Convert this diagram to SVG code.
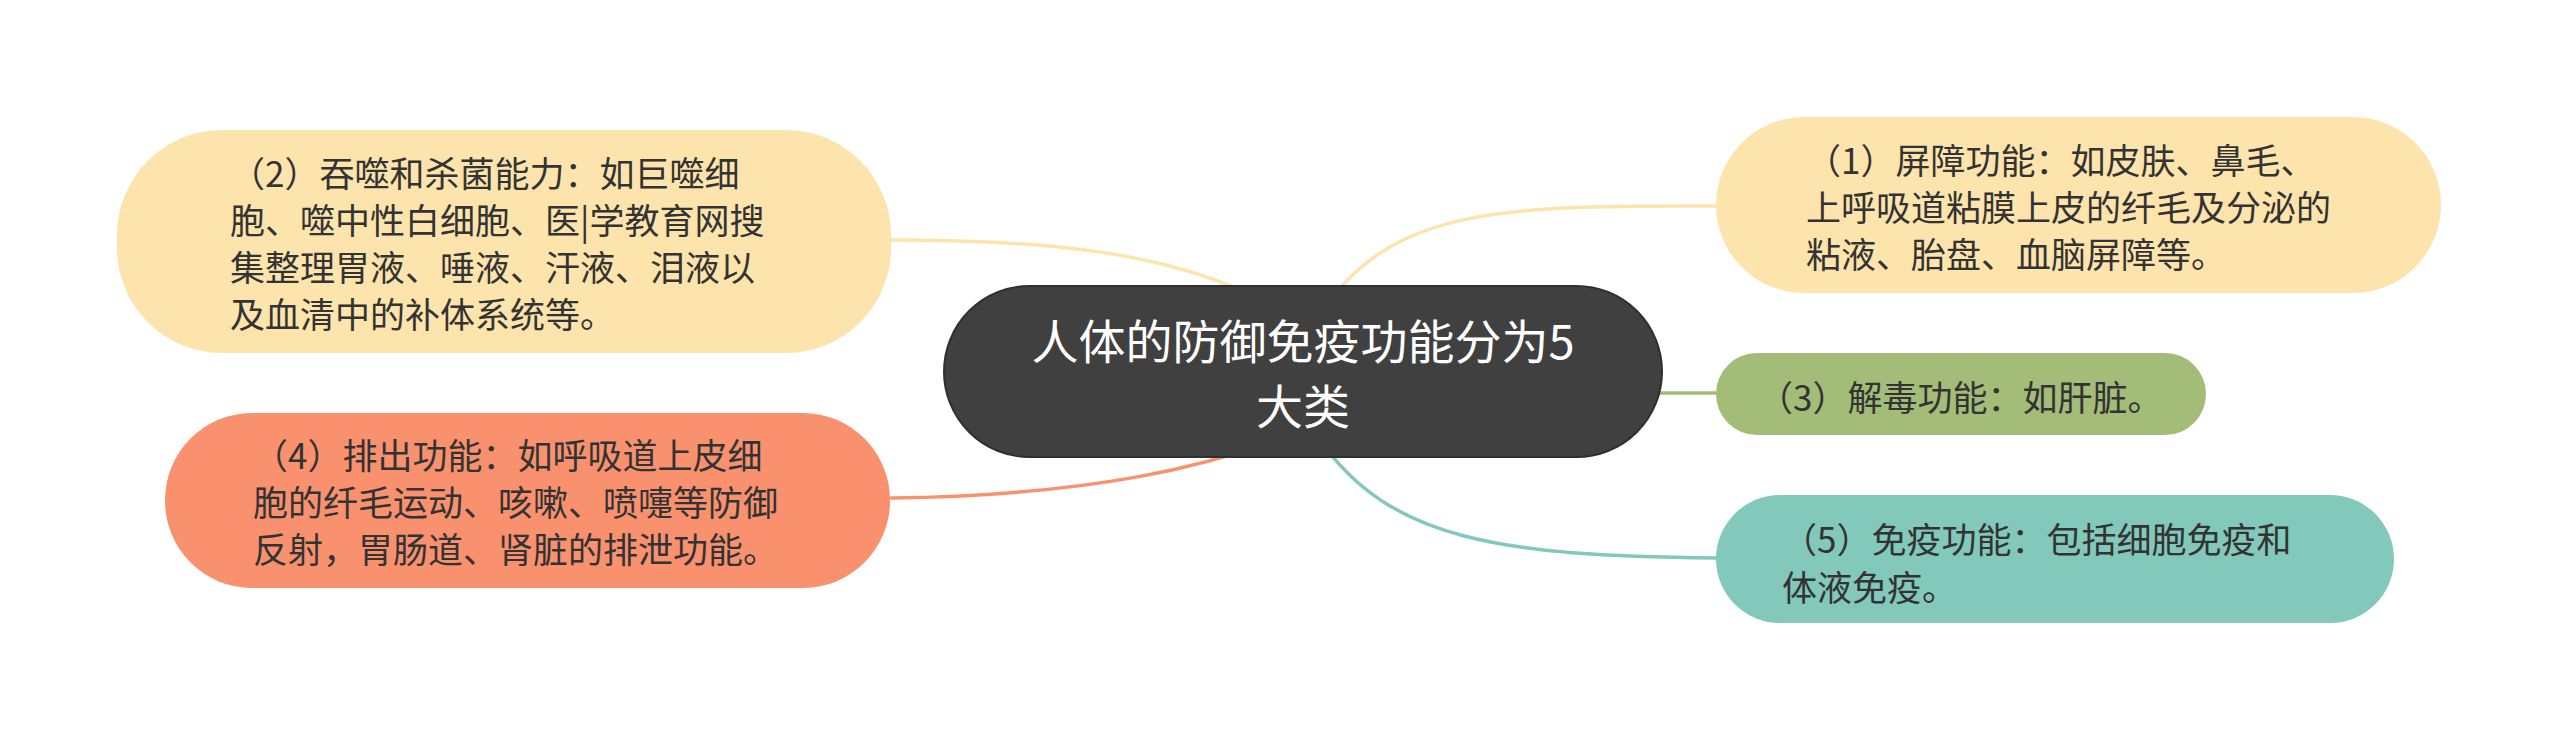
<svg xmlns="http://www.w3.org/2000/svg" width="2560" height="742" viewBox="0 0 2560 742">
<style>
.t{font-family:"Noto Sans CJK SC","Noto Sans",sans-serif;font-size:35px;fill:#333333;dominant-baseline:central}
.title{font-family:"Noto Sans CJK SC","Noto Sans",sans-serif;font-size:47px;fill:#ffffff;dominant-baseline:central;text-anchor:middle}
.c{fill:none;stroke-width:3.5;stroke-linecap:round}
</style>
<rect width="2560" height="742" fill="#ffffff"/>
<g id="connectors">
<path class="c" stroke="#FDE4AC" d="M891,240 C1060,240 1160,255 1240,290 L1302,371"/>
<path class="c" stroke="#FDE4AC" d="M1302,371 L1330,300 C1400,210 1500,205 1716,206"/>
<path class="c" stroke="#A3BC78" d="M1302,393 L1716,393"/>
<path class="c" stroke="#F9916F" d="M1302,371 L1290,435 C1210,465 1100,495 891,498"/>
<path class="c" stroke="#82C9BB" d="M1302,371 L1320,440 C1390,540 1500,556 1716,558"/>
</g>
<g id="node-center">
<rect x="944" y="286" width="718" height="171" rx="85.5" ry="85.5" fill="#404040" stroke="#2f2f2f" stroke-width="2"/>
<text class="title" x="1303" y="338">人体的防御免疫功能分为5</text>
<text class="title" x="1303" y="403">大类</text>
</g>
<g id="node-1">
<rect x="1716" y="117" width="725" height="176" rx="88" ry="88" fill="#FDE4AC"/>
<text class="t" x="1806" y="158">（1）屏障功能：如皮肤、鼻毛、</text>
<text class="t" x="1806" y="205">上呼吸道粘膜上皮的纤毛及分泌的</text>
<text class="t" x="1806" y="252">粘液、胎盘、血脑屏障等。</text>
</g>
<g id="node-2">
<rect x="117" y="130" width="774" height="223" rx="105" ry="105" fill="#FDE4AC"/>
<text class="t" x="230" y="171">（2）吞噬和杀菌能力：如巨噬细</text>
<text class="t" x="230" y="218">胞、噬中性白细胞、医|学教育网搜</text>
<text class="t" x="230" y="265">集整理胃液、唾液、汗液、泪液以</text>
<text class="t" x="230" y="312">及血清中的补体系统等。</text>
</g>
<g id="node-3">
<rect x="1716" y="353" width="490" height="82" rx="41" ry="41" fill="#A3BC78"/>
<text class="t" x="1758" y="395">（3）解毒功能：如肝脏。</text>
</g>
<g id="node-4">
<rect x="165" y="413" width="725" height="175" rx="87" ry="87" fill="#F9916F"/>
<text class="t" x="253" y="453">（4）排出功能：如呼吸道上皮细</text>
<text class="t" x="253" y="500">胞的纤毛运动、咳嗽、喷嚏等防御</text>
<text class="t" x="253" y="547">反射，胃肠道、肾脏的排泄功能。</text>
</g>
<g id="node-5">
<rect x="1716" y="495" width="678" height="128" rx="64" ry="64" fill="#82C9BB"/>
<text class="t" x="1782" y="537">（5）免疫功能：包括细胞免疫和</text>
<text class="t" x="1782" y="585">体液免疫。</text>
</g>
</svg>
